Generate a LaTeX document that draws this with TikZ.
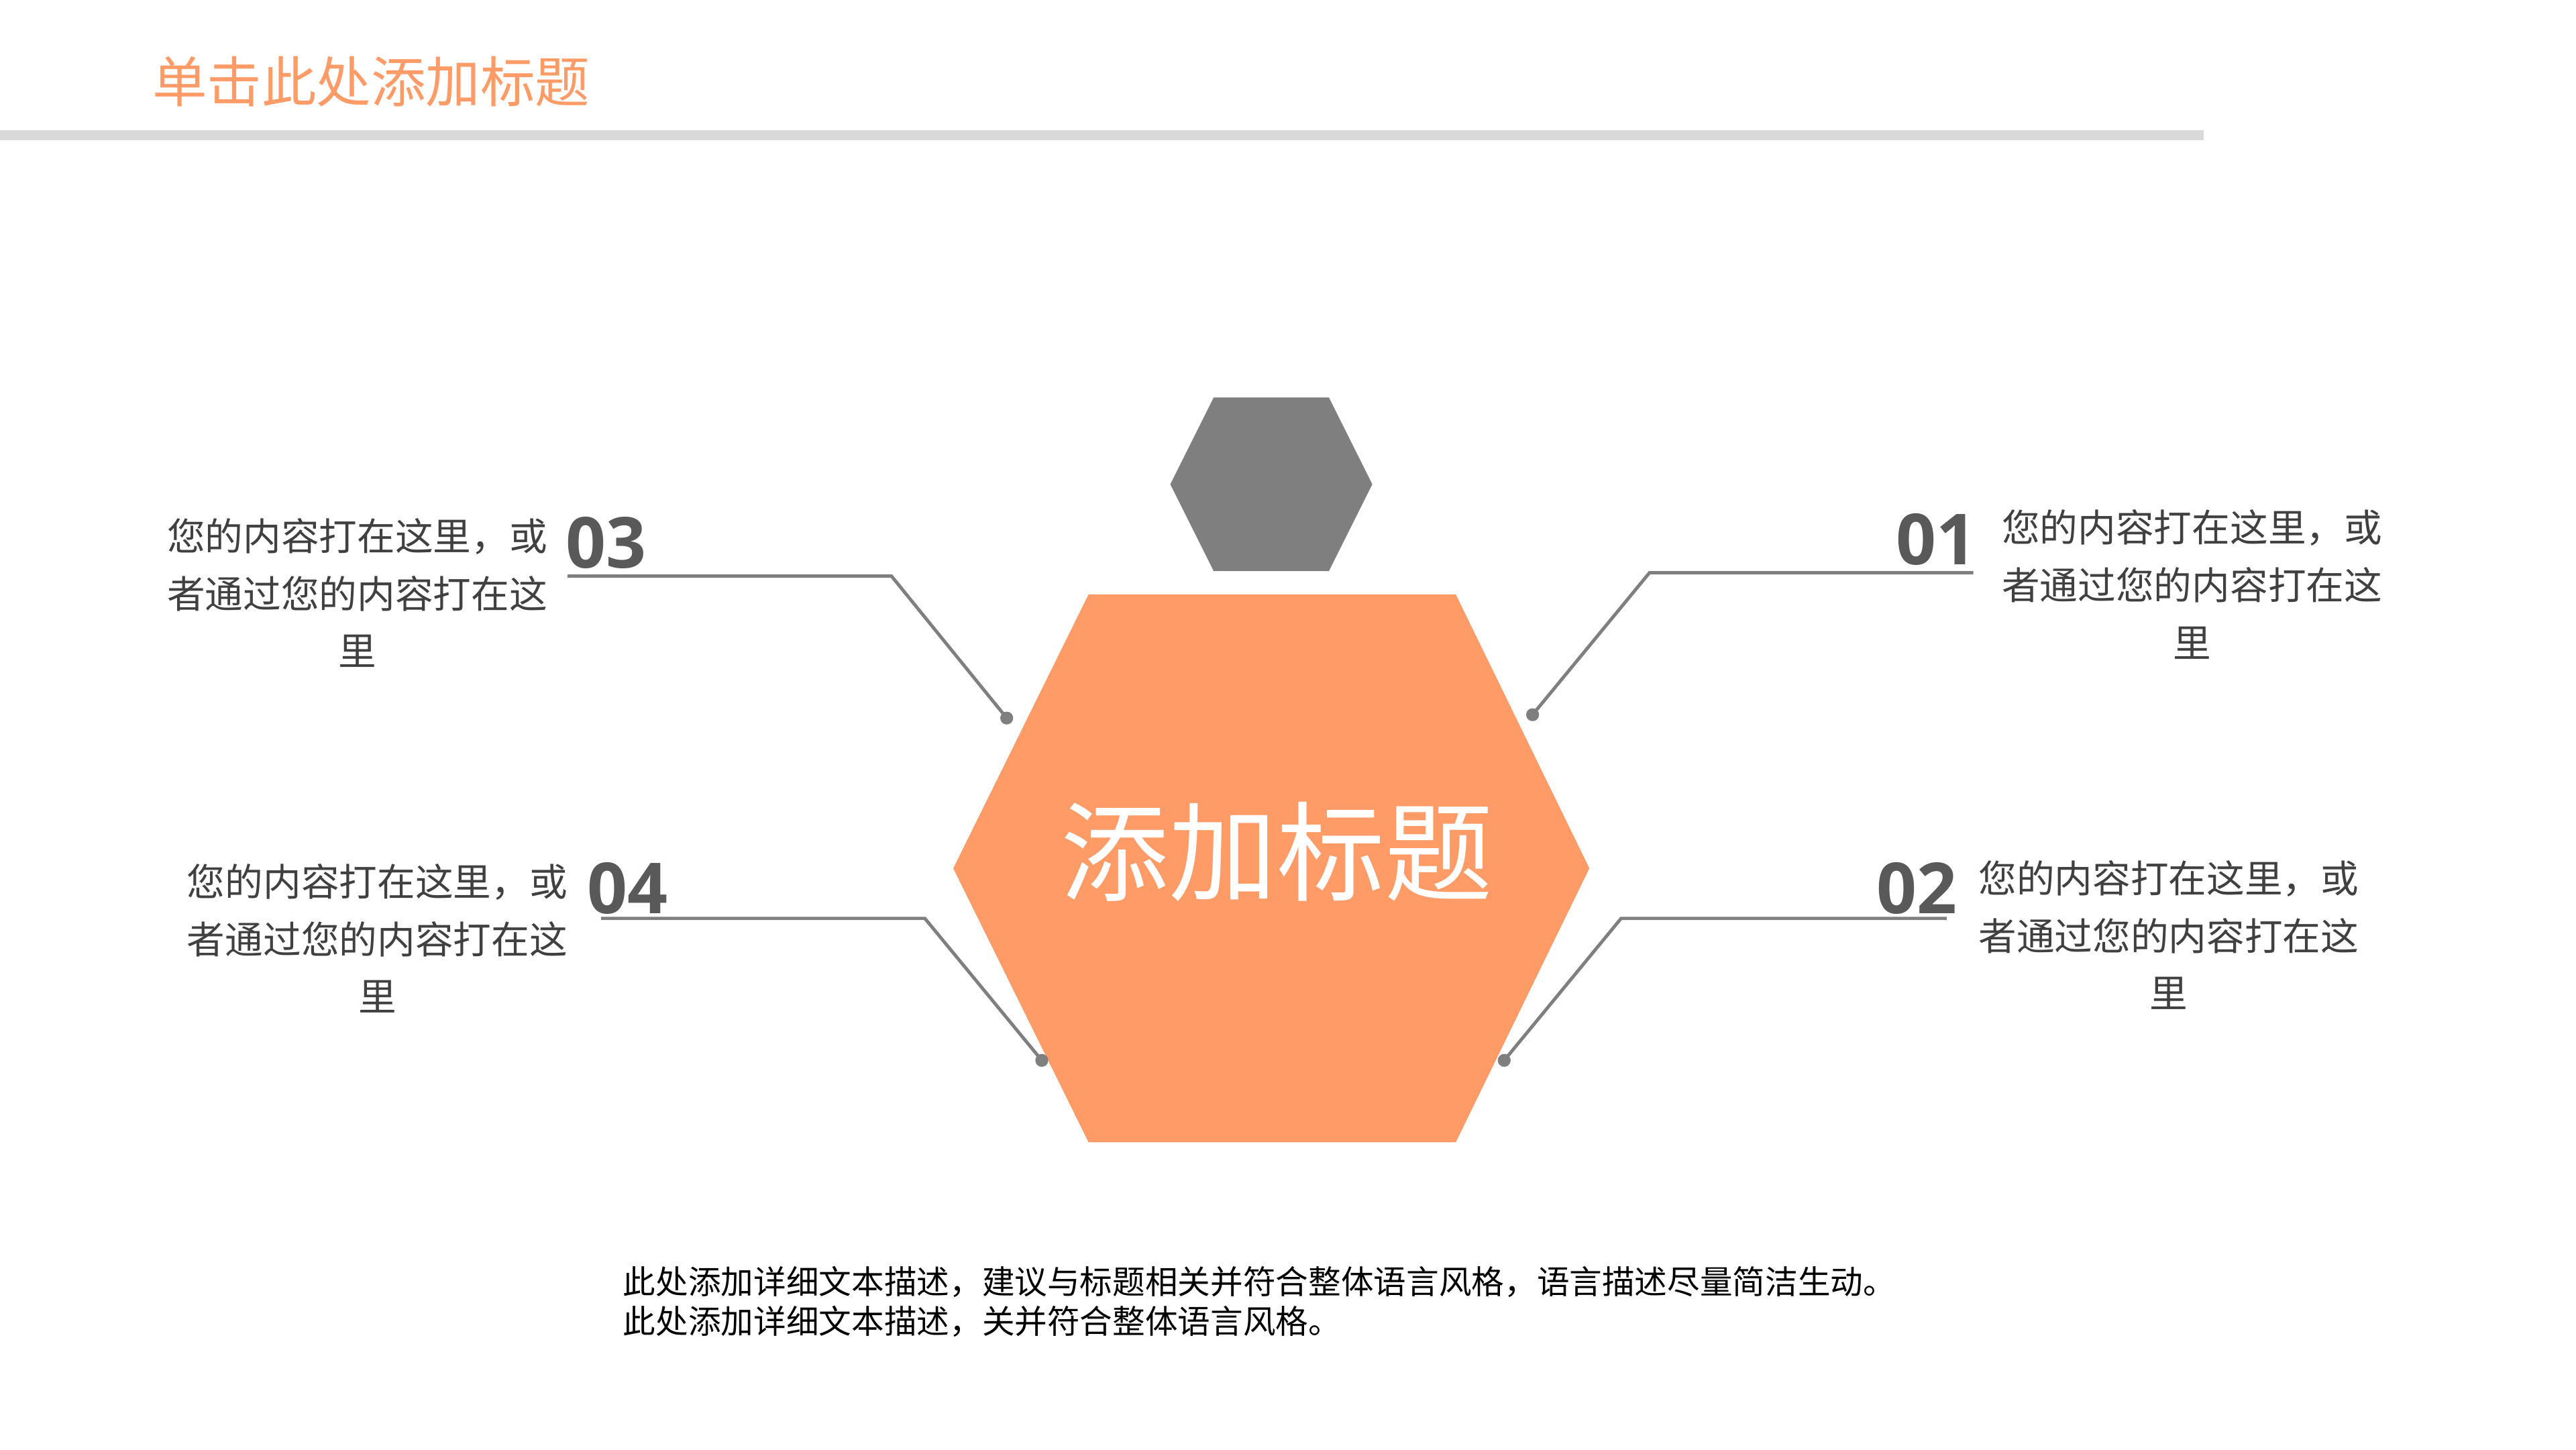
\documentclass[tikz,border=0pt]{standalone}
\usepackage{fontspec}
\newfontfamily\cjk{Noto Sans CJK SC}
\newfontfamily\num{Open Sans}
\definecolor{org}{HTML}{FF9B66}
\definecolor{gr}{HTML}{7F7F7F}
\definecolor{txt}{HTML}{404040}
\definecolor{numc}{HTML}{595959}
\definecolor{bar}{HTML}{D9D9D9}
\begin{document}
\begin{tikzpicture}[x=0.025cm,y=-0.025cm,
  body/.style={font=\cjk\fontsize{16.2}{24.5}\selectfont,text=txt,align=center,inner sep=0},
  numb/.style={font=\num\bfseries\fontsize{30}{30}\selectfont,text=numc,inner sep=0},
  conn/.style={draw=gr,line width=1.4pt},
  dot/.style={circle,fill=gr,inner sep=0,minimum size=5.5pt}]
\useasboundingbox (0,0) rectangle (1543,868);
\fill[bar] (0,78) rectangle (1320,84);
\node[anchor=west,text=org,font=\cjk\fontsize{23.3}{23.3}\selectfont,inner sep=0] (title) at (91,49) {单击此处添加标题};
\fill[gr] (701,290)--(727,238)--(796,238)--(822,290)--(796,342)--(727,342)--cycle;
\fill[org] (571,520)--(652,356)--(872,356)--(952,520)--(872,684)--(652,684)--cycle;
\node[text=white,font=\cjk\fontsize{46}{46}\selectfont,inner sep=0] (center) at (765,510) {添加标题};
% 03
\node[numb] (n3) at (363,325) {03};
\node[body] (t3) at (214,355) {您的内容打在这里，或\\者通过您的内容打在这\\里};
\coordinate (a3) at (340,345); \coordinate (b3) at (534,345);
\node[dot] (d3) at (603,430) {};
\draw[conn] (a3)--(b3)--(d3.center);
% 01
\node[numb] (n1) at (1160,323) {01};
\node[body] (t1) at (1313,350) {您的内容打在这里，或\\者通过您的内容打在这\\里};
\coordinate (a1) at (1182,343); \coordinate (b1) at (988,343);
\node[dot] (d1) at (918,428) {};
\draw[conn] (a1)--(b1)--(d1.center);
% 04
\node[numb] (n4) at (376,532) {04};
\node[body] (t4) at (226,562) {您的内容打在这里，或\\者通过您的内容打在这\\里};
\coordinate (a4) at (360,550); \coordinate (b4) at (554,550);
\node[dot] (d4) at (624,635) {};
\draw[conn] (a4)--(b4)--(d4.center);
% 02
\node[numb] (n2) at (1148,532) {02};
\node[body] (t2) at (1299,560) {您的内容打在这里，或\\者通过您的内容打在这\\里};
\coordinate (a2) at (1166,550); \coordinate (b2) at (971,550);
\node[dot] (d2) at (901,635) {};
\draw[conn] (a2)--(b2)--(d2.center);
\node[anchor=north west,align=left,text=black,font=\cjk\fontsize{13.9}{16.8}\selectfont,inner sep=0] (bottom) at (373,758)
 {此处添加详细文本描述，建议与标题相关并符合整体语言风格，语言描述尽量简洁生动。\\此处添加详细文本描述，关并符合整体语言风格。};
\end{tikzpicture}
\end{document}
